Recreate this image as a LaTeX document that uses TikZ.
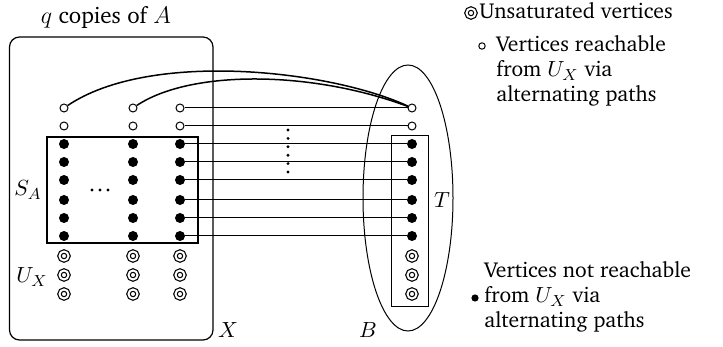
\documentclass[tikz,border=0pt]{standalone}
\usepackage[T1]{fontenc}
\usepackage{charter}
\usetikzlibrary{shapes.geometric}
\begin{document}
\begin{tikzpicture}[x=0.5pt,y=-0.5pt,font=\fontsize{10.8}{13}\selectfont,
  open/.style={circle,draw,line width=0.5pt,fill=white,inner sep=0pt,minimum size=4pt},
  full/.style={circle,fill=black,inner sep=0pt,minimum size=5pt},
  unsat/.style={circle,draw,double,line width=0.6pt,double distance=1pt,inner sep=0pt,minimum size=4.5pt},
  conn/.style={line width=0.5pt},
  curve/.style={line width=0.75pt},
  lbl/.style={inner sep=0pt},
  txt/.style={inner sep=0pt,anchor=base west}]
\useasboundingbox (0,0) rectangle (723,347);
% regions
\node[draw,rounded corners=5pt,line width=0.6pt,minimum width=101.75pt,minimum height=151.5pt,inner sep=0pt] (Xbox) at (111.25,188.5) {};
\node[draw,line width=1pt,minimum width=75.5pt,minimum height=53pt,inner sep=0pt] (SA) at (122.5,190) {};
\node[draw,ellipse,line width=0.5pt,minimum width=45pt,minimum height=133pt,inner sep=0pt] (Bell) at (408,198) {};
\node[draw,line width=0.5pt,minimum width=18.5pt,minimum height=85.5pt,inner sep=0pt] (Tbox) at (409.5,221.5) {};
% vertices
\foreach \col/\x in {a/64,b/133,c/180,d/412} {
  \node[open] (\col1) at (\x,108) {};
  \node[open] (\col2) at (\x,126) {};
  \foreach \i/\y in {3/144,4/162,5/180,6/200,7/218,8/236}
    \node[full] (\col\i) at (\x,\y) {};
  \foreach \i/\y in {9/256,10/275,11/294}
    \node[unsat] (\col\i) at (\x,\y) {};
}
% connectors
\foreach \i in {1,...,8} \draw[conn] (c\i) -- (d\i);
\draw[curve] (a1) .. controls (150,50) and (330,70) .. (d1);
\draw[curve] (b1) .. controls (190,70) and (310,70) .. (d1);
% dots
\foreach \k in {0,...,5} \fill (288,130+8.4*\k) circle (0.8pt);
\foreach \xx in {92,100,108} \fill (\xx,190) circle (0.85pt);
% labels
\node[lbl,font=\fontsize{11.5}{13}\selectfont] (qA) at (106,17) {$q$ copies of $A$};
\node[lbl] (SAl) at (28,190) {$S_A$};
\node[lbl] (UXl) at (32,277) {$U_X$};
\node[lbl] (Xl) at (228,330) {$X$};
\node[lbl] (Tl) at (442,200) {$T$};
\node[lbl] (Bl) at (368,330) {$B$};
% legend
\node[unsat] (lu) at (471,13) {};
\node[txt] (lut) at (479,19) {Unsaturated vertices};
\node[open,minimum size=3.2pt] (lo) at (482,46) {};
\node[txt] (lo1) at (496,52) {Vertices reachable};
\node[txt] (lo2) at (496,77) {from $U_X$ via};
\node[txt] (lo3) at (496,102) {alternating paths};
\node[full,minimum size=3.6pt] (lb) at (475,298) {};
\node[txt] (lb1) at (484,278) {Vertices not reachable};
\node[txt] (lb2) at (484,303) {from $U_X$ via};
\node[txt] (lb3) at (484,328) {alternating paths};
\end{tikzpicture}
\end{document}
